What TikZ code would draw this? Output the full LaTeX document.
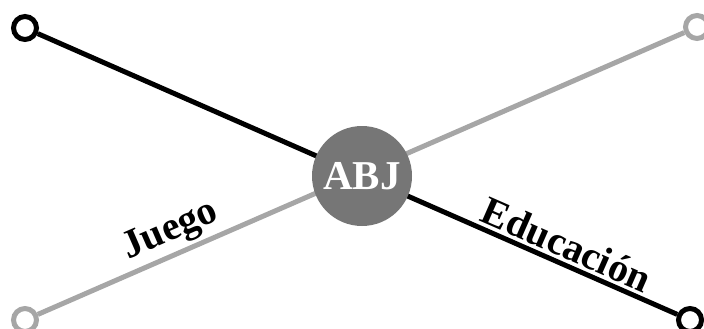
\documentclass[tikz,border=0pt]{standalone}
\usepackage{fontspec}
\setmainfont{Liberation Serif}
\definecolor{lightline}{HTML}{A6A6A6}
\definecolor{hubfill}{HTML}{767676}
\tikzset{
    endpt/.style = {circle, draw, fill = white, line width = 5, minimum size = 23, inner sep = 0},
    hub/.style = {circle, fill = hubfill, minimum size = 100, inner sep = 0, text = white,
        font = \bfseries\fontsize{41}{45}\selectfont},
    lbl/.style = {sloped, above = 3, inner sep = 0, font = \bfseries\fontsize{40}{44}\selectfont}
}

\begin{document}
\begin{tikzpicture}[x = 1pt, y = -1pt]
        \useasboundingbox (0,0) rectangle (704,329);
        % ends of the two lines
        \node[endpt] (tl) at (25,28) {};
        \node[endpt] (br) at (690,320) {};
        \node[endpt, draw = lightline] (bl) at (25,320) {};
        \node[endpt, draw = lightline] (tr) at (697,27) {};

        \draw[lightline, line width = 5] (bl) -- (tr) node[lbl, text = black, pos = 0.22] {Juego};
        \draw[line width = 5] (tl) -- (br) node[lbl, pos = 0.815] {Educaci\'on};

        \node[hub] (abj) at (362,176) {ABJ};
    \end{tikzpicture}
\end{document}
